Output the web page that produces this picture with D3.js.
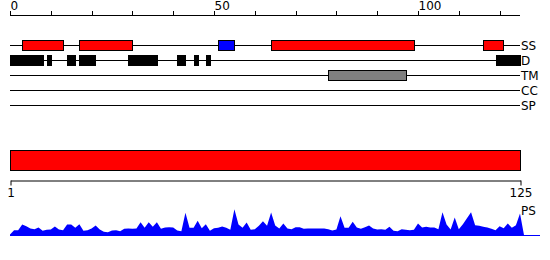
<!DOCTYPE html>
<html>
<head>
<meta charset="UTF-8">
<title>Protein features</title>
<style>
  body { margin: 0; padding: 0; background: #fff; }
  svg { display: block; font-family: "DejaVu Sans", sans-serif; font-size: 12px; }
</style>
</head>
<body>
<div id="chart"></div>
<script src="https://cdnjs.cloudflare.com/ajax/libs/d3/7.8.5/d3.min.js"></script>
<script>
// track names
const trackNames = ["SS", "D", "TM", "CC", "SP"];

// secondary structure (H = helix, E = strand)
const ssStart = [3, 17, 51, 64, 116];
const ssEnd   = [13, 30, 55, 99, 121];
const ssType  = ["H", "H", "E", "H", "H"];

// disorder
const disStart = [0, 9, 14, 17, 29, 41, 45, 48, 119];
const disEnd   = [8, 10, 16, 21, 36, 43, 46, 49, 125];

// transmembrane
const tmStart = [78];
const tmEnd   = [97];

// domain bar (sequence range)
const seqRange = [1, 125];

// top ruler ticks
const rulerTicks = [0, 10, 20, 30, 40, 50, 60, 70, 80, 90, 100, 110, 120];
const rulerLabels = [0, 50, 100];

// PS profile, one value per position 0..126
const psValues = [
  1, 5.3, 5.3, 11, 9.3, 7, 6.3, 8, 4.7, 5.7,
  6, 9, 6, 5.3, 11, 11, 7.7, 11.3, 4.7, 5.3,
  7, 10, 6, 3.7, 3.3, 5, 5.3, 4.3, 6.7, 7,
  6.7, 7, 13.3, 7.7, 13.3, 8.7, 13.3, 6.7, 8, 8.3,
  8, 5, 4.3, 22.7, 7.7, 7.7, 14.7, 7.3, 11.3, 4.7,
  7.3, 7.7, 9, 7.7, 5.7, 26.3, 11, 7.7, 13, 5.7,
  6.3, 9.7, 14.3, 9.7, 23, 10, 7, 12, 7, 6.3,
  8.3, 8.3, 6.7, 7, 7, 7, 7, 7, 6.3, 5,
  6, 19.3, 7.7, 7.7, 13.7, 8, 6.7, 8.3, 10, 7,
  6, 6.3, 5.7, 8.7, 4.7, 4.3, 6.3, 5.7, 5.3, 5.7,
  12, 8, 8.7, 8, 8, 6.3, 23.3, 11, 6, 18,
  6.3, 11.3, 17.3, 23.3, 10.3, 9.7, 8.7, 8, 6.7, 5.3,
  9.3, 7.3, 12, 7.7, 10.3, 22, 0
];

const width = 550, height = 260;
const ssColors = { H: "#ff0000", E: "#0000ff" };

const svg = d3.select("#chart").append("svg")
    .attr("width", width)
    .attr("height", height);

const x = d3.scaleLinear().domain([0, 125]).range([10, 520]);
const trackY = d3.scalePoint().domain(trackNames).range([45, 105]);

// top ruler
svg.append("line")
    .attr("x1", x(0)).attr("x2", x(125))
    .attr("y1", 15.5).attr("y2", 15.5)
    .attr("stroke", "#000");
svg.selectAll(".rtick").data(rulerTicks).enter().append("line")
    .attr("x1", d => Math.round(x(d)) + 0.5).attr("x2", d => Math.round(x(d)) + 0.5)
    .attr("y1", 11).attr("y2", 15.5)
    .attr("stroke", "#000");
svg.selectAll(".rlabel").data(rulerLabels).enter().append("text")
    .attr("x", d => x(d) + 0.5).attr("y", 10)
    .attr("fill", "#000")
    .text(d => d);

// track lines and names
const track = svg.selectAll(".track").data(trackNames).enter().append("g");
track.append("line")
    .attr("x1", x(0)).attr("x2", x(125))
    .attr("y1", d => trackY(d) + 0.5).attr("y2", d => trackY(d) + 0.5)
    .attr("stroke", "#000");
track.append("text")
    .attr("x", x(125) + 1).attr("y", d => trackY(d) + 5)
    .attr("fill", "#000")
    .text(d => d);

function segs(starts, ends, row, h, fill) {
  svg.selectAll(null).data(starts.map((s, i) => i)).enter().append("rect")
      .attr("x", i => Math.round(x(starts[i])) + 0.5)
      .attr("width", i => Math.round(x(ends[i]) - x(starts[i])))
      .attr("y", trackY(row) - h / 2 + 0.5)
      .attr("height", h)
      .attr("fill", fill)
      .attr("stroke", "#000");
}
segs(ssStart, ssEnd, "SS", 10, i => ssColors[ssType[i]]);
segs(disStart, disEnd, "D", 10, "#000");
segs(tmStart, tmEnd, "TM", 10, "#808080");

// domain bar and its axis
const xs = d3.scaleLinear().domain(seqRange).range([10, 520]);
svg.append("rect")
    .attr("x", xs(seqRange[0]) + 0.5).attr("y", 150.5)
    .attr("width", xs(seqRange[1]) - xs(seqRange[0])).attr("height", 20)
    .attr("fill", "#ff0000").attr("stroke", "#000");

const bottomAxis = svg.append("g").attr("transform", "translate(0.5,180.5)")
    .call(d3.axisBottom(xs).tickValues(seqRange).tickSizeOuter(0).tickSizeInner(5).tickPadding(3));
bottomAxis.select(".domain").attr("stroke", "#000");
bottomAxis.selectAll("text").attr("font-size", 12).attr("font-family", "DejaVu Sans, sans-serif").attr("fill", "#000");

// PS profile
const y = d3.scaleLinear().domain([0, 30]).range([235.5, 205.5]);
const area = d3.area()
    .x((d, i) => x(i))
    .y0(y(0))
    .y1(d => y(d));
svg.append("path")
    .datum(psValues)
    .attr("d", area)
    .attr("fill", "#0000ff");
svg.append("line")
    .attr("x1", x(0)).attr("x2", 540)
    .attr("y1", y(0)).attr("y2", y(0))
    .attr("stroke", "#0000ff");
svg.append("text")
    .attr("x", x(125) + 1).attr("y", 215)
    .attr("fill", "#000")
    .text("PS");
</script>
</body>
</html>
